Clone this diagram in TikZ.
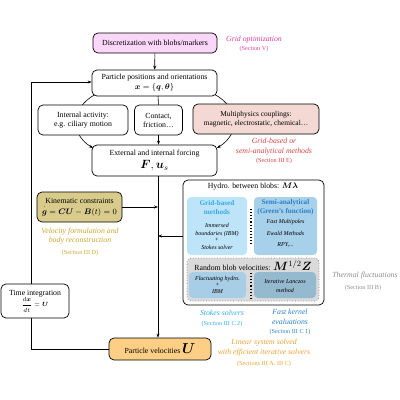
\documentclass[tikz,border=0pt]{standalone}
\usepackage{amsmath,bm}
\usepackage{fontspec}
\setmainfont{Liberation Serif}
\usetikzlibrary{arrows.meta}
\definecolor{cdisc}{HTML}{FAD6F8}
\definecolor{cmulti}{HTML}{F3D8D3}
\definecolor{ckin}{HTML}{D8CB8C}
\definecolor{cvel}{HTML}{FDCE85}
\definecolor{cgrid}{HTML}{BEE4FA}
\definecolor{csemi}{HTML}{A7D0EA}
\definecolor{crand}{HTML}{DADADA}
\definecolor{cfluct}{HTML}{A8CDE6}
\definecolor{clanc}{HTML}{95B9CF}
\definecolor{tmag}{HTML}{E040A0}
\definecolor{tred}{HTML}{D64541}
\definecolor{tgold}{HTML}{C9A628}
\definecolor{tgray}{HTML}{8C8C8C}
\definecolor{tlblue}{HTML}{33AAEE}
\definecolor{tdblue}{HTML}{2A80C8}
\definecolor{torange}{HTML}{F0A030}
\begin{document}
\begin{tikzpicture}[x=1pt,y=-1pt,
  box/.style={draw, rounded corners=5pt, line width=0.7pt, align=center, inner sep=0pt,
    font=\fontsize{7.8}{9}\selectfont},
  sub/.style={rounded corners=4pt, inner sep=0pt},
  lbl/.style={align=center, inner sep=0pt, font=\fontsize{7.8}{9.8}\selectfont\itshape},
  sec/.style={align=center, inner sep=0pt, font=\fontsize{6.2}{7}\selectfont},
  itm/.style={align=center, inner sep=0pt, font=\fontsize{6}{8.5}\selectfont\itshape},
  arr/.style={-{Stealth[length=4pt,width=3pt]}, line width=0.6pt},
  ln/.style={line width=0.6pt}]
\useasboundingbox (0,0) rectangle (400,400);

% curved connectors (drawn first, behind the boxes)
\coordinate (cl1) at (96,94);
\coordinate (cl2) at (93,148);
\coordinate (cr1) at (214,94);
\coordinate (cr2) at (217,148);
\draw[arr] (cl1) .. controls (70,108) and (70,134) .. (cl2);
\draw[arr] (cr1) .. controls (240,108) and (240,134) .. (cr2);

% main boxes
\node[box, fill=cdisc, minimum width=124pt, minimum height=20pt] (disc) at (155,43) {Discretization with blobs/markers};
\node[box, fill=white, minimum width=125pt, minimum height=26pt] (pos) at (154.5,83) {Particle positions and orientations\\[1pt] $\bm{x}=\{\bm{q},\bm{\theta}\}$};
\node[box, fill=white, minimum width=90pt, minimum height=30pt] (act) at (83,120) {Internal activity:\\ e.g. ciliary motion};
\node[box, fill=white, minimum width=48pt, minimum height=30pt] (cont) at (158.5,120) {Contact,\\ friction\ldots};
\node[box, fill=cmulti, minimum width=126pt, minimum height=30pt, font=\fontsize{7.4}{9}\selectfont] (multi) at (256,119) {Multiphysics couplings:\\ magnetic, electrostatic, chemical\ldots};
\node[box, fill=white, minimum width=125pt, minimum height=31pt] (ext) at (154.5,160.5) {External and internal forcing\\[1.5pt] {\large $\bm{F},\bm{u}_s$}};
\node[box, fill=ckin, minimum width=85pt, minimum height=30pt] (kin) at (79.5,207) {Kinematic constraints\\[2pt] $\overset{\bm{\cdot}}{\bm g}=\bm{C}\bm{U}-\bm{B}(t)=0$};
\node[box, fill=white, minimum width=68pt, minimum height=34pt] (time) at (35,301) {Time integration\\[0pt] {\fontsize{6.5}{7}\selectfont$\dfrac{d\bm{x}}{dt}=\bm{U}$}};
\node[box, fill=cvel, minimum width=102pt, minimum height=22pt] (vel) at (160,349) {Particle velocities {\Large $\bm{U}$}};

% hydro box
\node[box, fill=white, minimum width=141pt, minimum height=125pt] (hydro) at (253.5,242.5) {};
\node[inner sep=0pt, font=\fontsize{7.8}{9}\selectfont] (htitle) at (253,187) {Hydro. between blobs: $\bm{M}\bm{\lambda}$};
\node[sub, fill=cgrid, minimum width=60pt, minimum height=58pt] (grid) at (217,226) {};
\node[sub, fill=csemi, minimum width=63pt, minimum height=58pt] (semi) at (285.5,226) {};
\node[align=center, inner sep=0pt, font=\fontsize{7.2}{9}\selectfont\bfseries, text=tlblue] (gridt) at (217,207.5) {Grid-based\\ methods};
\node[itm] (gridi) at (217,236) {Immersed\\ boundaries (IBM)\\[-2.5pt] +\\[-1pt] Stokes solver};
\node[align=center, inner sep=0pt, font=\fontsize{7.2}{9}\selectfont\bfseries, text=tdblue] (semit) at (285.5,207.5) {Semi-analytical\\ (Green's function)};
\node[itm] (semi1) at (285.5,222) {Fast Multipoles};
\node[itm] (semi2) at (285.5,233) {Ewald Methods};
\node[itm] (semi3) at (285.5,244.5) {RPY,...};
\coordinate (d1a) at (251,209);
\coordinate (d1b) at (251,246);
\draw[line width=1.1pt, dotted] (d1a) -- (d1b);

\node[sub, fill=crand, draw=gray, dotted, line width=0.7pt, minimum width=132pt, minimum height=43pt] (rand) at (253,279.5) {};
\node[inner sep=0pt, font=\fontsize{7.8}{9}\selectfont] (randt) at (253,265.5) {Random blob velocities: {\large $\bm{M}^{1/2}\bm{Z}$}};
\node[sub, fill=cfluct, minimum width=57pt, minimum height=26pt] (fluct) at (217.5,285) {};
\node[sub, fill=clanc, minimum width=62pt, minimum height=26pt] (lanc) at (285,285) {};
\node[itm] (flucttext) at (217.5,285) {Fluctuating hydro.\\[-2.5pt] +\\[-1pt] IBM};
\node[itm] (lanctext) at (285,286) {Iterative Lanczos\\ method};
\coordinate (d2a) at (251,273);
\coordinate (d2b) at (251,298);
\draw[line width=1.1pt, dotted] (d2a) -- (d2b);

% straight connectors
\draw[arr] (disc) -- (pos);
\coordinate (sp1) at (158,96);
\draw[ln] (sp1) -- (cont.north);
\draw[arr] (cont.south) -- (cont.south |- ext.north);
\coordinate (sp2) at (158,176);
\draw[arr] (sp2) -- (sp2 |- vel.north);
\draw[arr] (kin.east) -- (kin.east -| sp2);
\coordinate (hl) at (183,236);
\draw[arr] (hl) -- (hl -| sp2);
\coordinate (lp1) at (31,349);
\coordinate (lp2) at (31,82);
\draw[ln] (vel.west |- lp1) -- (lp1) -- (lp1 |- time.south);
\draw[arr] (lp2 |- time.north) -- (lp2) -- (lp2 -| pos.west);

% labels
\node[lbl, text=tmag] (l1) at (254,40) {Grid optimization};
\node[sec, text=tmag] (l1s) at (254,49.5) {(Section V)};
\node[lbl, text=tred] (l2) at (274,146.5) {Grid-based or\\ semi-analytical methods};
\node[sec, text=tred] (l2s) at (274,161) {(Section III E)};
\node[lbl, text=tgold] (l3) at (80,236) {Velocity formulation and\\ body reconstruction};
\node[sec, text=tgold] (l3s) at (80,253) {(Section III D)};
\node[lbl, text=tgray] (l4) at (365,276) {Thermal fluctuations};
\node[sec, text=tgray] (l4s) at (363,288) {(Section III B)};
\node[lbl, text=tlblue] (l5) at (222,313) {Stokes solvers};
\node[sec, text=tlblue] (l5s) at (222,324) {(Section III C 2)};
\node[lbl, text=tdblue] (l6) at (290,317) {Fast kernel\\ evaluations};
\node[sec, text=tdblue] (l6s) at (290,332) {(Section III C 1)};
\node[lbl, text=torange] (l7) at (264,348) {Linear system solved\\ with efficient iterative solvers};
\node[sec, text=torange] (l7s) at (264,364) {(Sections III A, III C)};
\end{tikzpicture}
\end{document}
